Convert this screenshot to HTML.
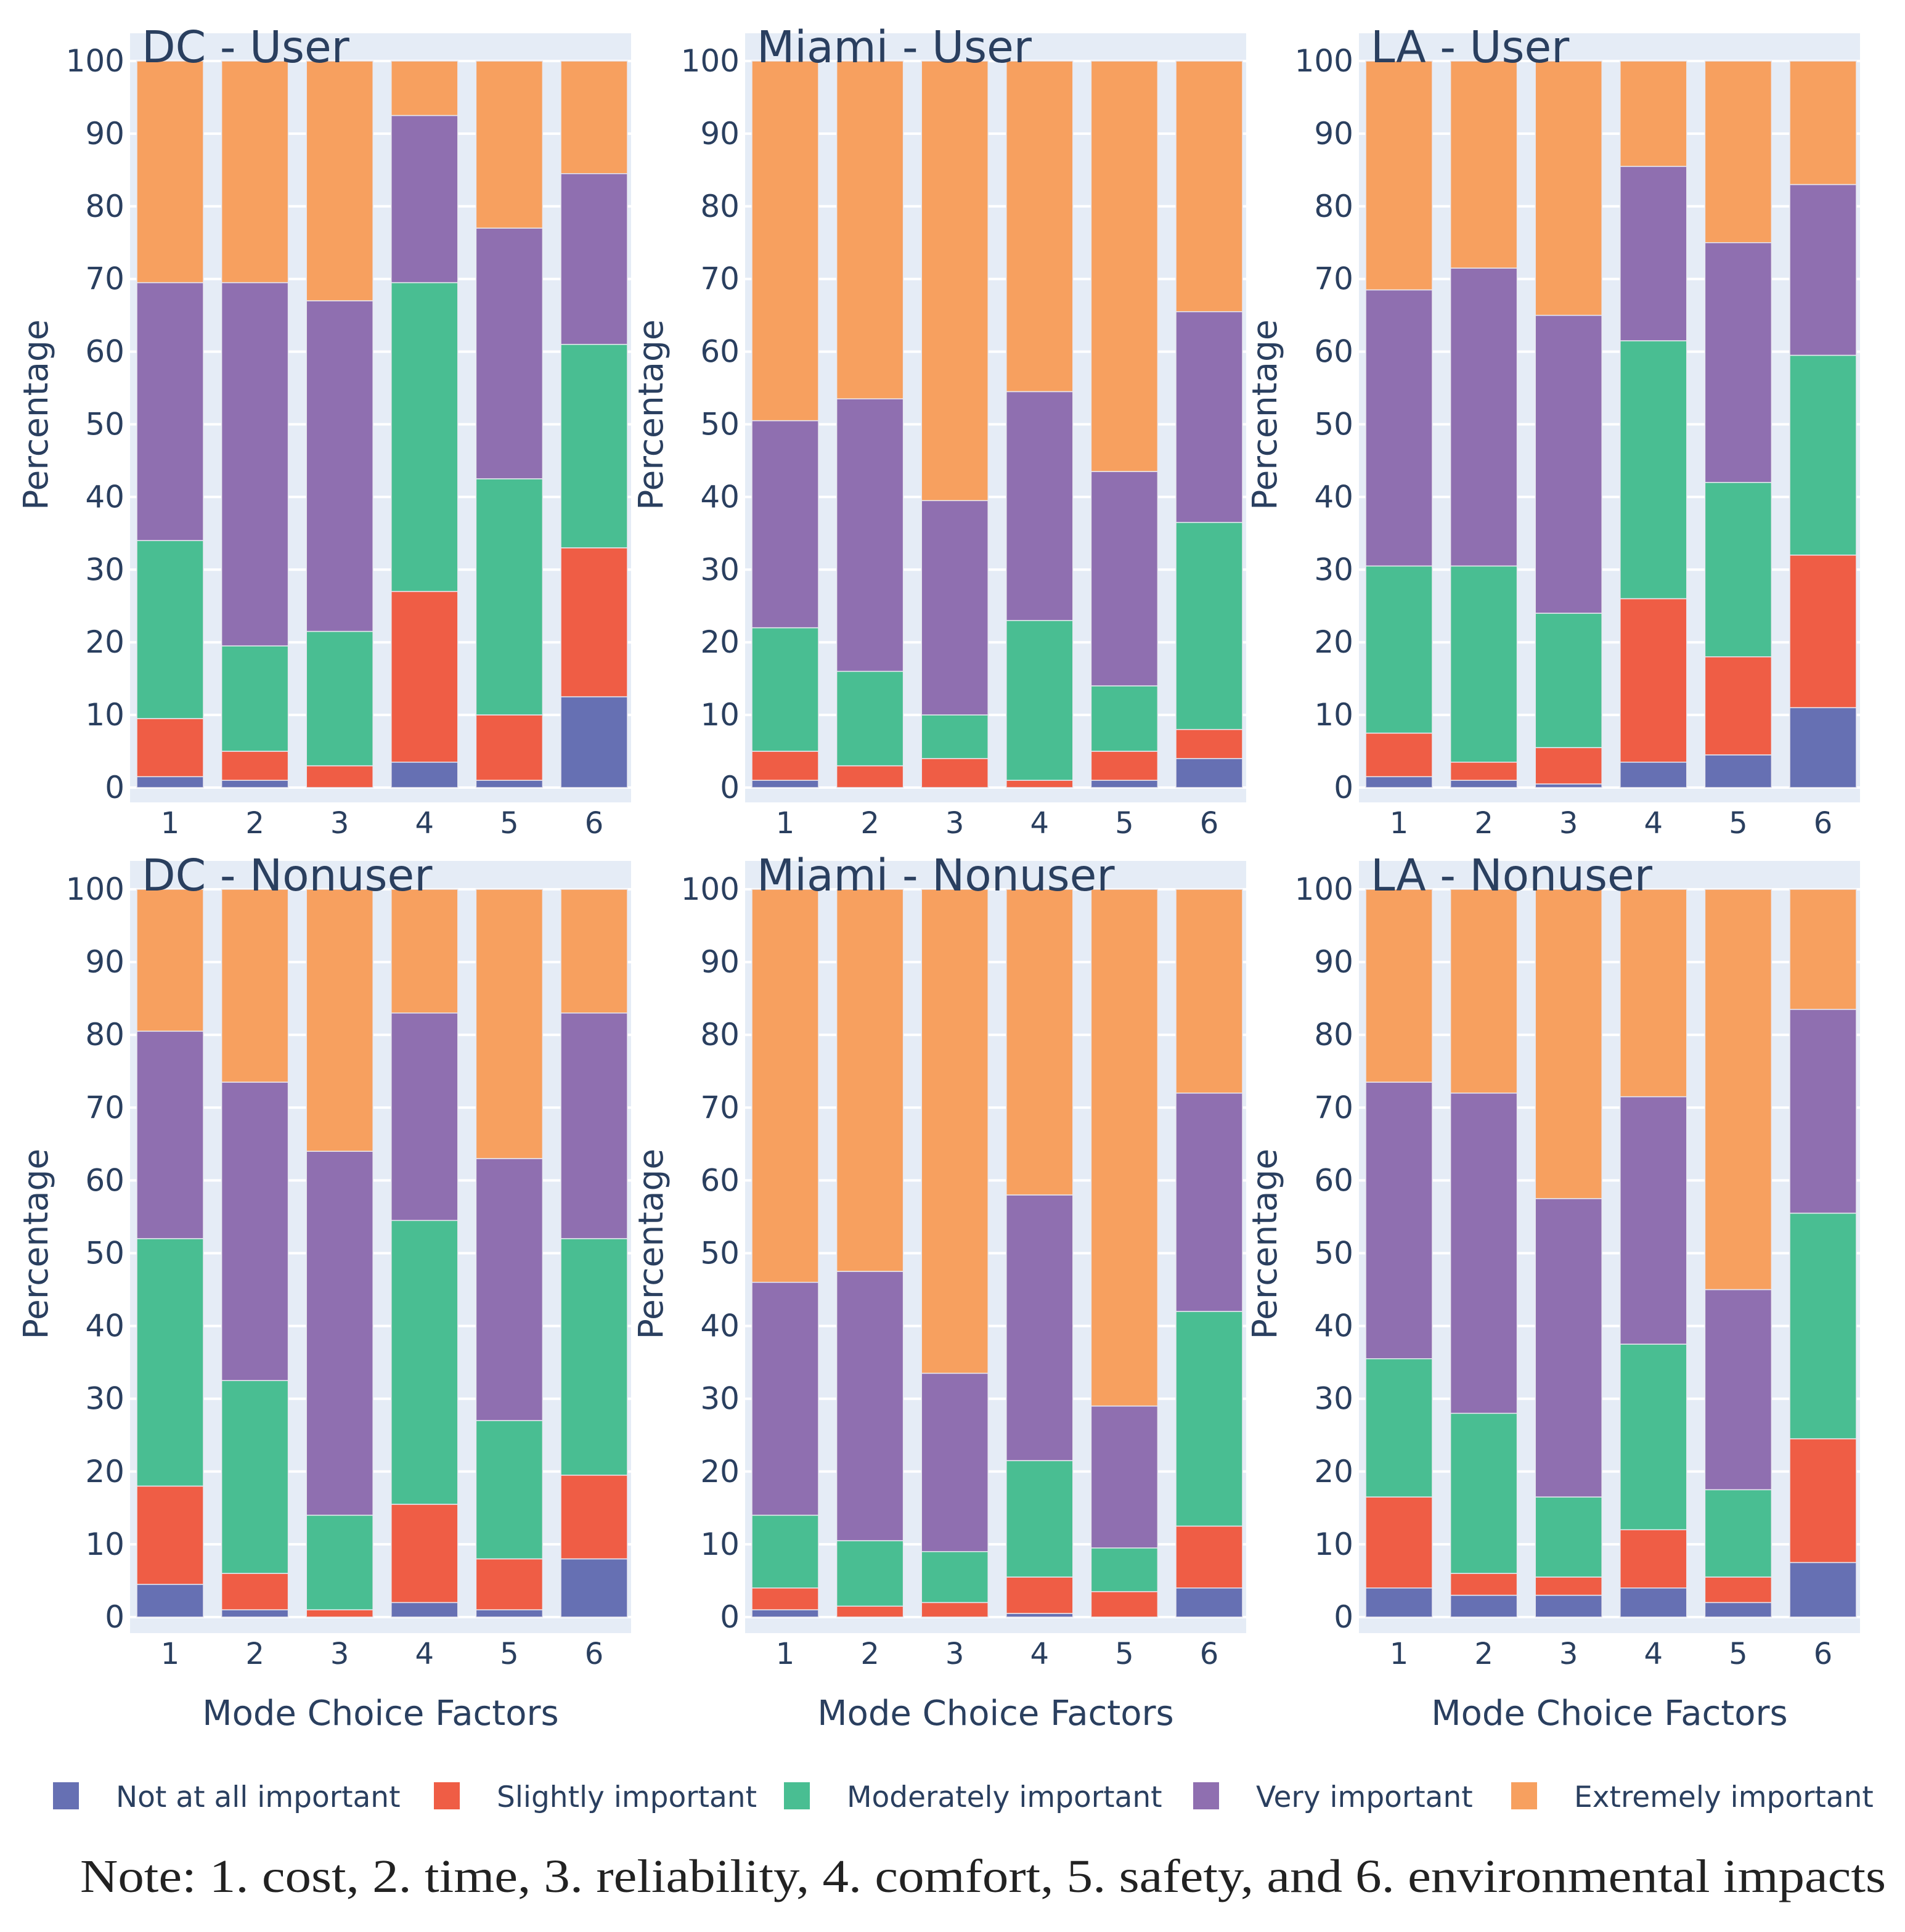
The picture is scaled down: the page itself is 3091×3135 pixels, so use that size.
<!DOCTYPE html>
<html><head><meta charset="utf-8"><style>
html,body{margin:0;padding:0;background:#fff;}
svg{display:block;}
</style></head><body>
<svg id="chart" width="3091" height="3135" viewBox="0 0 3091 3135" xmlns="http://www.w3.org/2000/svg">
<g id="panels"></g>
<g id="legend"></g>
<text x="130" y="3070" font-family="Liberation Serif, serif" font-size="76" fill="#222" textLength="2930" lengthAdjust="spacingAndGlyphs">Note: 1. cost, 2. time, 3. reliability, 4. comfort, 5. safety, and 6. environmental impacts</text>
</svg>
<script>
const categories = ['1','2','3','4','5','6'];
const yTicks = [0,10,20,30,40,50,60,70,80,90,100];
const seriesNames = ['Not at all important','Slightly important','Moderately important','Very important','Extremely important'];
const seriesColors = ['#6670b3','#ef5d45','#49be92','#8f6fb0','#f7a05f'];
const panelTitles = ['DC - User','Miami - User','LA - User','DC - Nonuser','Miami - Nonuser','LA - Nonuser'];

const dcUserNot = [1.5,1,0,3.5,1,12.5];
const dcUserSlight = [8,4,3,23.5,9,20.5];
const dcUserModerate = [24.5,14.5,18.5,42.5,32.5,28];
const dcUserVery = [35.5,50,45.5,23,34.5,23.5];
const dcUserExtreme = [30.5,30.5,33,7.5,23,15.5];

const miamiUserNot = [1,0,0,0,1,4];
const miamiUserSlight = [4,3,4,1,4,4];
const miamiUserModerate = [17,13,6,22,9,28.5];
const miamiUserVery = [28.5,37.5,29.5,31.5,29.5,29];
const miamiUserExtreme = [49.5,46.5,60.5,45.5,56.5,34.5];

const laUserNot = [1.5,1,0.5,3.5,4.5,11];
const laUserSlight = [6,2.5,5,22.5,13.5,21];
const laUserModerate = [23,27,18.5,35.5,24,27.5];
const laUserVery = [38,41,41,24,33,23.5];
const laUserExtreme = [31.5,28.5,35,14.5,25,17];

const dcNonNot = [4.5,1,0,2,1,8];
const dcNonSlight = [13.5,5,1,13.5,7,11.5];
const dcNonModerate = [34,26.5,13,39,19,32.5];
const dcNonVery = [28.5,41,50,28.5,36,31];
const dcNonExtreme = [19.5,26.5,36,17,37,17];

const miamiNonNot = [1,0,0,0.5,0,4];
const miamiNonSlight = [3,1.5,2,5,3.5,8.5];
const miamiNonModerate = [10,9,7,16,6,29.5];
const miamiNonVery = [32,37,24.5,36.5,19.5,30];
const miamiNonExtreme = [54,52.5,66.5,42,71,28];

const laNonNot = [4,3,3,4,2,7.5];
const laNonSlight = [12.5,3,2.5,8,3.5,17];
const laNonModerate = [19,22,11,25.5,12,31];
const laNonVery = [38,44,41,34,27.5,28];
const laNonExtreme = [26.5,28,42.5,28.5,55,16.5];

const panelSeries = [
 [dcUserNot,dcUserSlight,dcUserModerate,dcUserVery,dcUserExtreme],
 [miamiUserNot,miamiUserSlight,miamiUserModerate,miamiUserVery,miamiUserExtreme],
 [laUserNot,laUserSlight,laUserModerate,laUserVery,laUserExtreme],
 [dcNonNot,dcNonSlight,dcNonModerate,dcNonVery,dcNonExtreme],
 [miamiNonNot,miamiNonSlight,miamiNonModerate,miamiNonVery,miamiNonExtreme],
 [laNonNot,laNonSlight,laNonModerate,laNonVery,laNonExtreme]
];

const NS='http://www.w3.org/2000/svg';
function mk(tag, attrs, parent){const e=document.createElementNS(NS,tag);for(const k in attrs)e.setAttribute(k,attrs[k]);parent.appendChild(e);return e;}
const colX=[211,1209,2205];
const rowTop=[54,1397], rowY100=[99,1443], rowY0=[1278,2624], rowBot=[1302,2650];
const pitch=137.6, barW=108;
const fontUI='DejaVu Sans, Liberation Sans, sans-serif';
const panels=document.getElementById('panels');

panelSeries.forEach((series,pi)=>{
  const c=pi%3, r=Math.floor(pi/3);
  const x0=colX[c];
  const yScale=v=>rowY0[r]-(rowY0[r]-rowY100[r])*v/100;
  const xScale=i=>x0+11+i*pitch;
  const g=mk('g',{},panels);
  
  
  const bgR=xScale(5)+barW+6;
  const bg=mk('rect',{x:x0,y:rowTop[r],width:bgR-x0,height:rowBot[r]-rowTop[r],fill:'#e5ecf6'},g);
  
  
  yTicks.forEach(t=>{
    const y=yScale(t);
    const gl=mk('line',{x1:x0,x2:bgR,y1:y,y2:y,stroke:'#fff','stroke-width':4},g);
    
    
    const tl=mk('text',{x:x0-9,y:y+17,'text-anchor':'end','font-family':fontUI,'font-size':50,fill:'#2a3f5f'},g);
    
    
    tl.textContent=t;
  });
  categories.forEach((cat,i)=>{
    let cum=0;
    series.forEach((vals,si)=>{
      const v=vals[i];
      const y1=yScale(cum), y2=yScale(cum+v);
      cum+=v;
      if(v<=0)return;
      const b=mk('rect',{x:xScale(i),y:y2,width:barW,height:y1-y2,fill:seriesColors[si],stroke:'#e8e8f0','stroke-width':1.5},g);
      
      
    });
    const xl=mk('text',{x:xScale(i)+barW/2,y:rowBot[r]+50,'text-anchor':'middle','font-family':fontUI,'font-size':48,fill:'#2a3f5f'},g);
    
    
    xl.textContent=cat;
  });
  const tt=mk('text',{x:x0+19,y:rowY100[r]+2,'font-family':fontUI,'font-size':71,fill:'#2a3f5f'},g);
  
  
  tt.textContent=panelTitles[pi];
  const cy=(rowTop[r]+rowBot[r])/2-5;
  const yt=mk('text',{x:0,y:0,transform:'translate('+(x0-134)+','+cy+') rotate(-90)','text-anchor':'middle','font-family':fontUI,'font-size':55,fill:'#2a3f5f'},g);
  
  
  yt.textContent='Percentage';
  if(r===1){
    const xt=mk('text',{x:(x0+bgR)/2,y:2799,'text-anchor':'middle','font-family':fontUI,'font-size':56,fill:'#2a3f5f'},g);
    
    
    xt.textContent='Mode Choice Factors';
  }
});

const legend=document.getElementById('legend');
const swX=[86,704,1272,1936,2452];
seriesNames.forEach((n,i)=>{
  const it=mk('g',{},legend);
  
  
  mk('rect',{x:swX[i],y:2892,width:42,height:44,fill:seriesColors[i]},it);
  const t=mk('text',{x:swX[i]+102,y:2932,'font-family':fontUI,'font-size':47,fill:'#2a3f5f'},it);
  t.textContent=n;
});
</script>
</body></html>
